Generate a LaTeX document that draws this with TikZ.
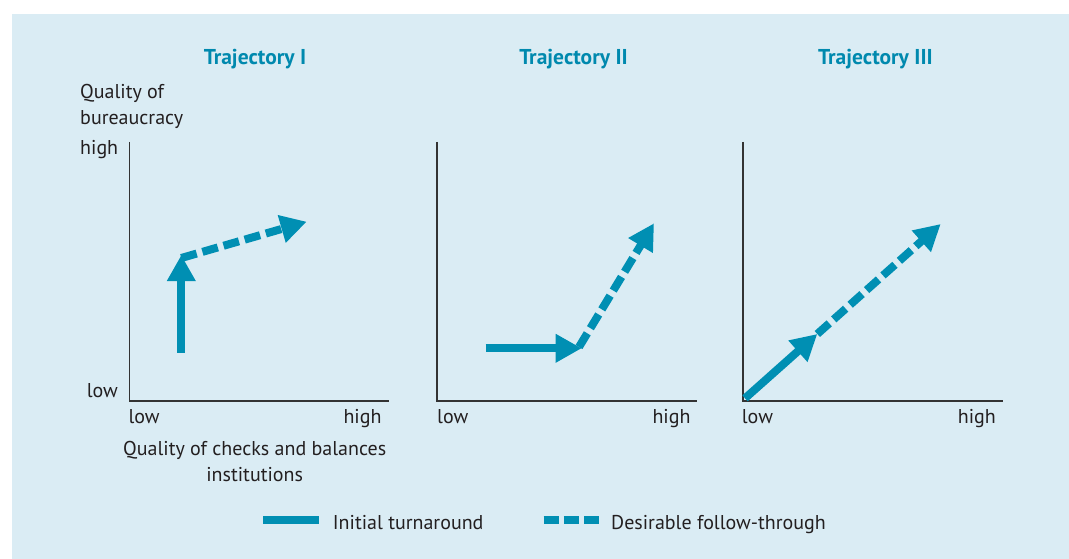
\documentclass[tikz,border=0pt]{standalone}
\usepackage{fontspec}
\setmainfont{PT Sans}
\usetikzlibrary{arrows.meta}
\definecolor{bgblue}{HTML}{DAECF4}
\definecolor{teal}{HTML}{008FB3}
\definecolor{titleteal}{HTML}{0089AE}
\definecolor{ink}{HTML}{231F20}
\definecolor{axisgray}{HTML}{333333}
\tikzset{
  lbl/.style={inner sep=0pt, text=ink, font=\fontsize{20}{22}\selectfont},
  ttl/.style={inner sep=0pt, text=titleteal, font=\fontsize{21.5}{24}\selectfont\bfseries, anchor=base},
  axis/.style={draw=axisgray, line width=1.6pt},
  initarrow/.style={draw=teal, line width=8pt, -{Triangle[length=26pt,width=27pt]}},
  followarrow/.style={draw=teal, line width=8pt, dash pattern=on 16pt off 6pt, -{Triangle[length=26pt,width=27pt]}},
  legsolid/.style={draw=teal, line width=7.5pt},
  legdash/.style={draw=teal, line width=7.5pt, dash pattern=on 15.3pt off 5pt},
}
\begin{document}
\begin{tikzpicture}[x=1pt,y=-1pt]
\useasboundingbox (0,0) rectangle (1069,559);
\fill[bgblue] (12,14) rectangle (1069,559);

% titles
\node[ttl] (t1) at (255,65) {Trajectory I};
\node[ttl] (t2) at (573.5,65) {Trajectory II};
\node[ttl] (t3) at (875.5,65) {Trajectory III};

% y-axis label
\node[lbl, anchor=base west] (yq) at (80,99) {Quality of};
\node[lbl, anchor=base west] (yb) at (80,125) {bureaucracy};
\node[lbl, anchor=base west] (yh) at (80,155) {high};
\node[lbl, anchor=base east] (yl) at (118,397) {low};

% axes panel 1
\coordinate (o1) at (129.3,400.7);
\coordinate (y1) at (129.3,142);
\coordinate (x1) at (388.7,400.7);
\draw[axis] (y1) -- (o1) -- (x1);
% axes panel 2
\coordinate (o2) at (436.7,400.7);
\coordinate (y2) at (436.7,142);
\coordinate (x2) at (696.7,400.7);
\draw[axis] (y2) -- (o2) -- (x2);
% axes panel 3
\coordinate (o3) at (742.7,400.7);
\coordinate (y3) at (742.7,142);
\coordinate (x3) at (1002.7,400.7);
\draw[axis] (y3) -- (o3) -- (x3);

% x-axis labels
\node[lbl, anchor=base west] (l1) at (128.3,423) {low};
\node[lbl, anchor=base east] (h1) at (381.7,423) {high};
\node[lbl, anchor=base west] (l2) at (437,423) {low};
\node[lbl, anchor=base east] (h2) at (690.7,423) {high};
\node[lbl, anchor=base west] (l3) at (741.7,423) {low};
\node[lbl, anchor=base east] (h3) at (996,423) {high};

\node[lbl, anchor=base] (xq) at (254.7,455) {Quality of checks and balances};
\node[lbl, anchor=base] (xi) at (254.7,481) {institutions};

% panel 1 arrows
\coordinate (a1s) at (181.3,352.7);
\coordinate (a1m) at (181.3,255);
\coordinate (a1d) at (181.3,258);
\coordinate (a1e) at (306.7,221.7);
\draw[followarrow] (a1d) -- (a1e);
\draw[initarrow] (a1s) -- (a1m);

% panel 2 arrows
\coordinate (a2s) at (485.7,348.3);
\coordinate (a2m) at (581.7,348.3);
\coordinate (a2d) at (579,347);
\coordinate (a2e) at (654,223.3);
\draw[followarrow] (a2d) -- (a2e);
\draw[initarrow] (a2s) -- (a2m);

% panel 3 arrows
\coordinate (a3s) at (745,398.3);
\coordinate (a3m) at (817.3,334);
\coordinate (a3e) at (940.7,224);
\draw[followarrow] (a3m) -- (a3e);
\draw[initarrow] (a3s) -- (a3m);

% legend
\coordinate (ls1) at (263.3,520);
\coordinate (ls2) at (319.3,520);
\draw[legsolid] (ls1) -- (ls2);
\node[lbl, anchor=base west] (lt1) at (332.7,529) {Initial turnaround};
\coordinate (ld1) at (543.5,520);
\coordinate (ld2) at (599.4,520);
\draw[legdash] (ld1) -- (ld2);
\node[lbl, anchor=base west] (lt2) at (611,529) {Desirable follow-through};
\end{tikzpicture}
\end{document}
